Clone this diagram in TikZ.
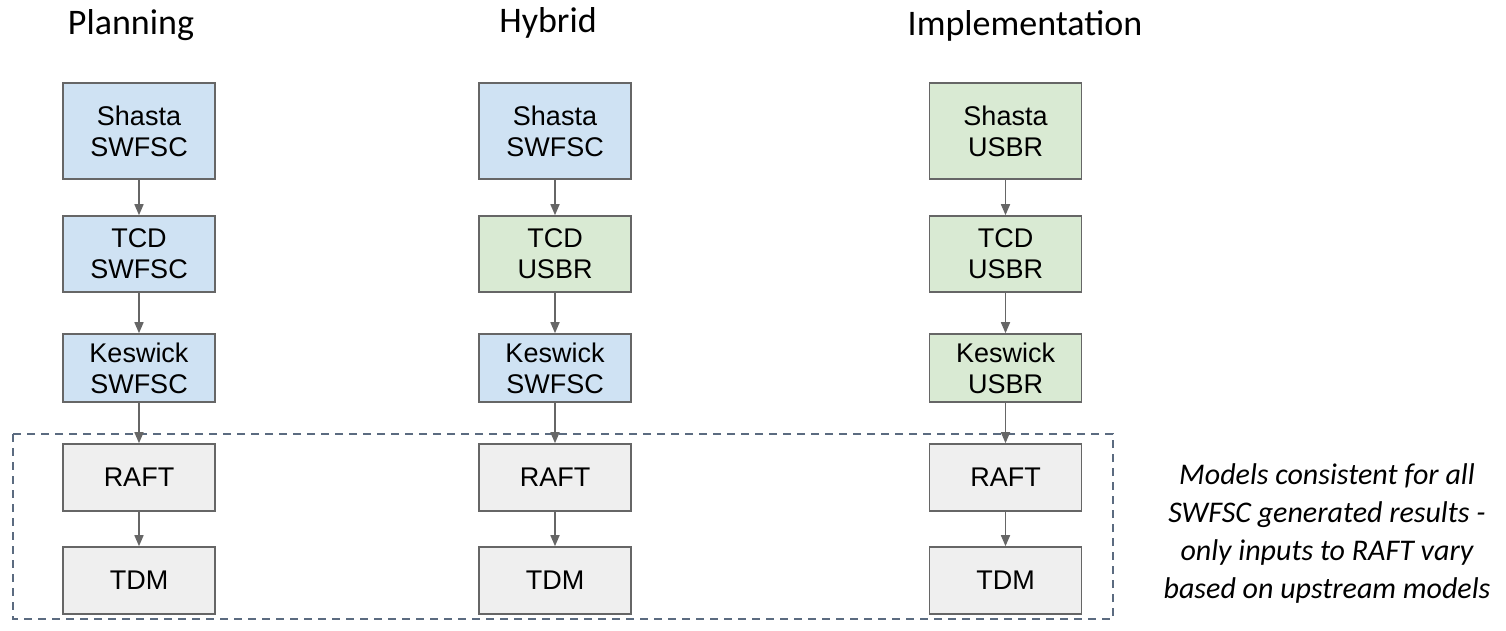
\documentclass[tikz,border=0pt]{standalone}
\usepackage{fontspec}
\setmainfont{Liberation Sans}
\newfontfamily\calib{Carlito}
\usetikzlibrary{arrows.meta}
\definecolor{bluefill}{HTML}{CFE2F3}
\definecolor{greenfill}{HTML}{D9EAD3}
\definecolor{grayfill}{HTML}{EFEFEF}
\definecolor{edgegray}{HTML}{666666}
\definecolor{dashcol}{HTML}{5B6B80}
\tikzset{
  box/.style={draw=edgegray, line width=1.6pt, minimum width=152pt, inner sep=0pt,
    align=center, font=\fontsize{27}{31}\selectfont, text=black},
  bluebox/.style={box, fill=bluefill},
  greenbox/.style={box, fill=greenfill},
  graybox/.style={box, fill=grayfill},
  tall/.style={minimum height=96pt},
  mid/.style={minimum height=76pt},
  low/.style={minimum height=68pt},
  flat/.style={minimum height=67pt},
  conn/.style={draw=edgegray, line width=1.6pt, -{Triangle[length=11pt,width=9pt]}},
  title/.style={font=\calib\fontsize{36}{40}\selectfont, anchor=base},
  note/.style={font=\calib\itshape\fontsize{30}{38}\selectfont, align=center}
}
\begin{document}
\begin{tikzpicture}[x=1pt,y=-1pt]
\useasboundingbox (0,0) rectangle (1506,630);
% dashed frame
\draw[dashcol, line width=1.8pt, dash pattern=on 8pt off 6pt] (13,434) rectangle (1113,619);
% titles
\node[title] (tP) at (131,34) {Planning};
\node[title] (tH) at (548,32) {Hybrid};
\node[title] (tI) at (1025,35) {Implementation};
% Planning column
\node[bluebox,tall] (p1) at (139,131) {Shasta\\SWFSC};
\node[bluebox,mid] (p2) at (139,254) {TCD\\SWFSC};
\node[bluebox,low] (p3) at (139,368) {Keswick\\SWFSC};
\node[graybox,flat] (p4) at (139,477.5) {RAFT};
\node[graybox,flat] (p5) at (139,580.5) {TDM};
% Hybrid column
\node[bluebox,tall] (h1) at (555,131) {Shasta\\SWFSC};
\node[greenbox,mid] (h2) at (555,254) {TCD\\USBR};
\node[bluebox,low] (h3) at (555,368) {Keswick\\SWFSC};
\node[graybox,flat] (h4) at (555,477.5) {RAFT};
\node[graybox,flat] (h5) at (555,580.5) {TDM};
% Implementation column
\node[greenbox,tall] (i1) at (1005.5,131) {Shasta\\USBR};
\node[greenbox,mid] (i2) at (1005.5,254) {TCD\\USBR};
\node[greenbox,low] (i3) at (1005.5,368) {Keswick\\USBR};
\node[graybox,flat] (i4) at (1005.5,477.5) {RAFT};
\node[graybox,flat] (i5) at (1005.5,580.5) {TDM};
% connectors
\foreach \c in {p,h,i}{
  \draw[conn] (\c1) -- (\c2);
  \draw[conn] (\c2) -- (\c3);
  \draw[conn] (\c3) -- (\c4);
  \draw[conn] (\c4) -- (\c5);
}
% note
\node[note] (note) at (1327,533) {Models consistent for all\\SWFSC generated results -\\only inputs to RAFT vary\\based on upstream models};
\end{tikzpicture}
\end{document}
